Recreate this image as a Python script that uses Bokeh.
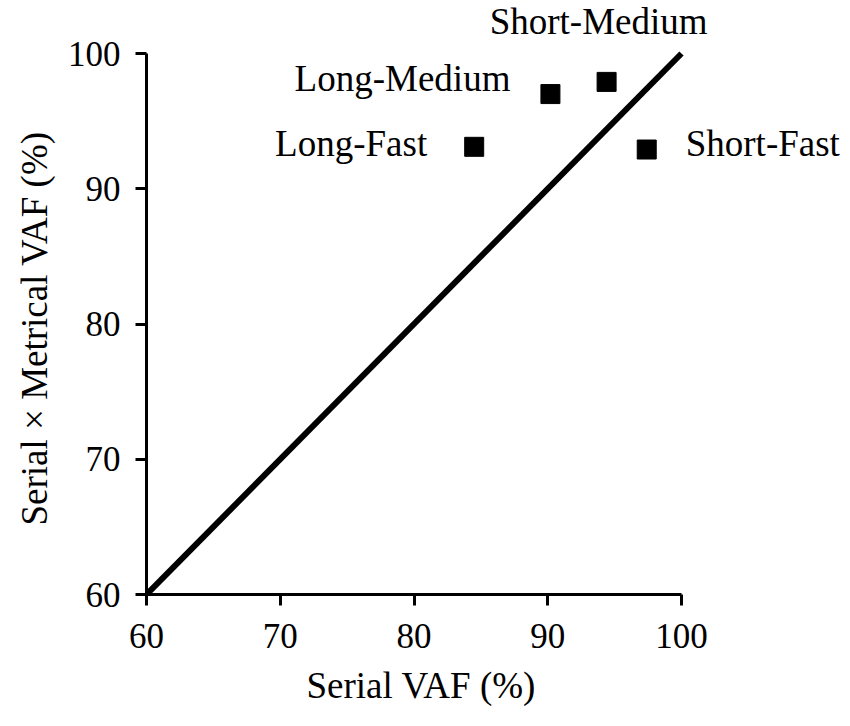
from bokeh.plotting import figure
from bokeh.models import ColumnDataSource, Range1d, FixedTicker, LabelSet, Title
from bokeh.embed import file_html
from bokeh.resources import INLINE

# ---- data ----
conditions = ["Long-Fast", "Long-Medium", "Short-Medium", "Short-Fast"]
serial_vaf = [84.5, 90.2, 94.4, 97.4]
serial_metrical_vaf = [93.1, 97.0, 97.9, 92.9]
identity_x = [60, 100]
identity_y = [60, 100]
tick_values = [60, 70, 80, 90, 100]
axis_min, axis_max = 60, 100
x_title = "Serial VAF (%)"
y_title = "Serial \u00d7 Metrical VAF (%)"

# ---- label styling (screen offsets, alignment) ----
label_align = ["right", "right", "center", "left"]
label_dx = [-47, -40, -8, 39]
label_dy = [-9, 3, 48, -6]

FONT = "Liberation Serif"

# layout: axes span 535 x 541 px; the frame is enlarged (invisibly) so the
# point labels outside the axis box are not clipped
W, H = 842, 718
LEFT, BOTTOM = 146, 124
AX_W, AX_H = 535, 541
frame_w = W - LEFT
frame_h = H - BOTTOM
x_end = axis_min + frame_w * (axis_max - axis_min) / AX_W
y_end = axis_min + frame_h * (axis_max - axis_min) / AX_H

p = figure(
    width=W, height=H,
    x_range=Range1d(axis_min, x_end), y_range=Range1d(axis_min, y_end),
    output_backend="svg", toolbar_location=None,
    min_border_left=LEFT, min_border_right=0,
    min_border_top=0, min_border_bottom=BOTTOM,
)
p.outline_line_color = None
p.grid.visible = False
p.background_fill_color = "white"
p.border_fill_color = "white"

for ax in (p.xaxis[0], p.yaxis[0]):
    ax.ticker = FixedTicker(ticks=tick_values)
    ax.bounds = (axis_min, axis_max)
    ax.axis_line_width = 3
    ax.axis_line_color = "black"
    ax.major_tick_line_width = 3
    ax.major_tick_line_color = "black"
    ax.major_tick_out = 11
    ax.major_tick_in = 0
    ax.minor_tick_line_color = None
    ax.major_label_text_font = FONT
    ax.major_label_text_font_size = "35px"
    ax.major_label_text_color = "black"

p.xaxis.major_label_standoff = 18
p.yaxis.major_label_standoff = 15

# axis titles placed over the visible axis span (not the enlarged frame)
xt = Title(text=x_title, align="left", offset=160, standoff=24,
           text_font=FONT, text_font_size="37px", text_font_style="normal",
           text_color="black")
yt = Title(text=y_title, align="left", offset=69, standoff=19,
           text_font=FONT, text_font_size="37px", text_font_style="normal",
           text_color="black")
p.add_layout(xt, "below")
p.add_layout(yt, "left")

p.line(identity_x, identity_y, line_width=6, line_color="black")

src = ColumnDataSource(dict(
    x=serial_vaf, y=serial_metrical_vaf, name=conditions,
    align=label_align, dx=label_dx, dy=label_dy,
))
p.scatter("x", "y", source=src, marker="square", size=19,
          fill_color="black", line_color="black")
labels = LabelSet(x="x", y="y", text="name", source=src,
                  text_align="align", x_offset="dx", y_offset="dy",
                  text_baseline="alphabetic", text_font=FONT,
                  text_font_size="37px", text_color="black")
p.add_layout(labels)

open("out.html", "w").write(file_html(p, INLINE))
